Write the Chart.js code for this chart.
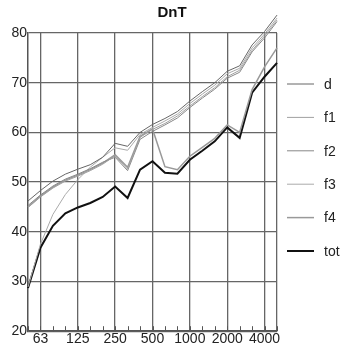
<!DOCTYPE html>
<html>
<head>
<meta charset="utf-8">
<script src="https://cdn.jsdelivr.net/npm/chart.js@4/dist/chart.umd.min.js"></script>
<style>
  html, body { margin: 0; padding: 0; background: #fff; }
  #wrap { width: 344px; height: 352px; }
</style>
</head>
<body>
<div id="wrap"><canvas id="dntChart"></canvas></div>
<script>
// Chart data
const freqs = ['50', '63', '80', '100', '125', '160', '200', '250', '315', '400', '500',
               '630', '800', '1000', '1250', '1600', '2000', '2500', '3150', '4000', '5000'];
const octaveLabels = ['63', '125', '250', '500', '1000', '2000', '4000'];
const yTicks = [20, 30, 40, 50, 60, 70, 80];

const dValues   = [46.2, 48.3, 50.2, 51.6, 52.6, 53.5, 55.0, 57.8, 57.2, 60.0, 61.6, 62.8, 64.2, 66.3, 68.2, 70.0, 72.3, 73.4, 77.6, 80.3, 83.6];
const f1Values  = [44.9, 47.0, 48.8, 50.2, 51.2, 52.3, 53.6, 55.3, 52.6, 59.0, 60.6, 61.8, 63.3, 65.3, 67.2, 69.0, 71.2, 72.5, 76.5, 79.4, 82.6];
const f2Values  = [45.3, 47.4, 49.2, 50.6, 51.6, 52.7, 54.0, 55.0, 52.3, 58.6, 60.2, 61.5, 62.9, 65.0, 66.9, 68.7, 70.9, 72.1, 76.2, 79.0, 82.3];
const f3Values  = [28.9, 37.5, 43.5, 47.5, 50.5, 53.0, 55.0, 56.9, 56.4, 59.6, 61.0, 62.3, 63.7, 65.8, 67.7, 69.5, 71.8, 72.9, 77.0, 79.8, 83.0];
const f4Values  = [45.0, 47.2, 49.0, 50.4, 51.4, 52.5, 53.8, 55.5, 53.0, 59.2, 60.7, 53.1, 52.5, 55.2, 57.0, 58.8, 61.5, 60.0, 68.6, 73.2, 77.0];
const totValues = [28.7, 36.8, 41.2, 43.7, 44.9, 45.8, 47.0, 49.1, 46.8, 52.5, 54.2, 51.9, 51.7, 54.5, 56.3, 58.2, 61.0, 58.9, 68.0, 71.2, 74.0];

function series(label, data, color, width) {
    return {
        label: label,
        data: data,
        borderColor: color,
        borderWidth: width,
        pointRadius: 0,
        tension: 0,
        fill: false,
        clip: false
    };
}

// draws the minor tick marks and the legend at the right side
const extras = {
    id: 'extras',
    afterDatasetsDraw(chart) {
        const ctx = chart.ctx;
        const x = chart.scales.x;
        const area = chart.chartArea;
        ctx.save();
        ctx.strokeStyle = '#555';
        ctx.lineWidth = 1;
        for (let i = 0; i < freqs.length; i++) {
            const px = Math.round(x.getPixelForTick(i)) + 0.5;
            ctx.beginPath();
            ctx.moveTo(px, area.bottom);
            ctx.lineTo(px, area.bottom - 5);
            ctx.stroke();
        }
        ctx.font = '14px "Liberation Sans", Arial, sans-serif';
        ctx.textBaseline = 'middle';
        ctx.fillStyle = '#222';
        chart.data.datasets.forEach((ds, i) => {
            const y = 84 + i * 33.4;
            ctx.strokeStyle = ds.borderColor;
            ctx.lineWidth = ds.borderWidth;
            ctx.beginPath();
            ctx.moveTo(287, y);
            ctx.lineTo(314, y);
            ctx.stroke();
            ctx.fillText(ds.label, 324, y + 1);
        });
        ctx.restore();
    }
};

const dntCtx = document.getElementById('dntChart').getContext('2d');
new Chart(dntCtx, {
    type: 'line',
    data: {
        labels: freqs,
        datasets: [
            series('d', dValues, '#666', 1),
            series('f1', f1Values, '#a0a0a0', 1),
            series('f2', f2Values, '#888', 1),
            series('f3', f3Values, '#aaa', 1),
            series('f4', f4Values, '#999', 1.5),
            series('tot', totValues, '#111', 2)
        ]
    },
    options: {
        responsive: true,
        maintainAspectRatio: false,
        animation: false,
        layout: {
            padding: { left: 0, right: 0, top: 0, bottom: 4 }
        },
        plugins: {
            legend: { display: false },
            tooltip: { enabled: false },
            title: {
                display: true,
                text: 'DnT',
                color: '#111',
                font: { family: '"Liberation Sans", Arial, sans-serif', size: 15, weight: 'bold' },
                padding: { top: 4, bottom: 11 }
            }
        },
        scales: {
            x: {
                type: 'category',
                offset: false,
                grid: {
                    drawTicks: false,
                    lineWidth: 1.3,
                    color: (c) => {
                        const lab = freqs[c.index];
                        return (octaveLabels.includes(lab) || c.index === freqs.length - 1) ? '#666' : 'rgba(0,0,0,0)';
                    }
                },
                border: { display: true, color: '#555', width: 1.5 },
                ticks: {
                    autoSkip: false,
                    maxRotation: 0,
                    padding: 0,
                    color: '#222',
                    font: { family: '"Liberation Sans", Arial, sans-serif', size: 14 },
                    callback: function (value, index) {
                        const lab = freqs[index];
                        return octaveLabels.includes(lab) ? lab : '';
                    }
                }
            },
            y: {
                min: yTicks[0],
                max: yTicks[yTicks.length - 1],
                afterBuildTicks: (axis) => {
                    axis.ticks = yTicks.map(v => ({ value: v }));
                },
                afterFit: (axis) => { axis.width = 28; },
                grid: { drawTicks: false, color: '#666', lineWidth: 1.3 },
                border: { display: true, color: '#555', width: 1.5 },
                ticks: {
                    padding: 1,
                    color: '#222',
                    font: { family: '"Liberation Sans", Arial, sans-serif', size: 14 }
                }
            },
            // empty axis that only reserves room for the legend on the right
            yRight: {
                position: 'right',
                min: yTicks[0],
                max: yTicks[yTicks.length - 1],
                grid: { display: false },
                border: { display: false },
                ticks: { display: false },
                afterFit: (axis) => { axis.width = 67; }
            }
        }
    },
    plugins: [extras]
});
</script>
</body>
</html>
